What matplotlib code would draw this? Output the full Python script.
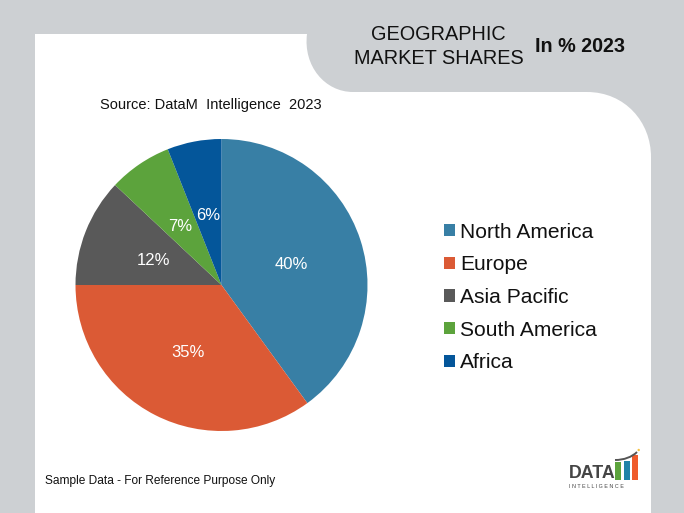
import matplotlib
matplotlib.use('Agg')
import matplotlib.pyplot as plt
from matplotlib.patches import PathPatch, Rectangle, Circle
from matplotlib.path import Path

plt.rcParams['font.family'] = ['Liberation Sans', 'DejaVu Sans']

regions = ['North America', 'Europe', 'Asia Pacific', 'South America', 'Africa']
shares = [40, 35, 12, 7, 6]
colors = ['#387FA5', '#DB5A35', '#595959', '#5CA33C', '#04569A']

W, H = 684, 513
GREY = '#CDD0D3'

fig = plt.figure(figsize=(W / 100, H / 100), dpi=100, facecolor=GREY)

# background, drawn in pixel coords
bg = fig.add_axes([0, 0, 1, 1])
bg.set_xlim(0, W)
bg.set_ylim(H, 0)
bg.axis('off')

verts = [(35, 34), (307, 34),
         (303, 66), (325, 92), (353, 92),
         (587, 92),
         (625, 92), (651, 122), (651, 157),
         (651, 513), (35, 513), (35, 34)]
codes = [Path.MOVETO, Path.LINETO,
         Path.CURVE4, Path.CURVE4, Path.CURVE4,
         Path.LINETO,
         Path.CURVE4, Path.CURVE4, Path.CURVE4,
         Path.LINETO, Path.LINETO, Path.CLOSEPOLY]
bg.add_patch(PathPatch(Path(verts, codes), facecolor='white', edgecolor='none'))

# titles
bg.text(438.5, 34.5, 'GEOGRAPHIC', fontsize=14.3, ha='center', va='center', color='#111111')
bg.text(439, 58.5, 'MARKET SHARES', fontsize=14.3, ha='center', va='center', color='#111111')
bg.text(580, 47, 'In % 2023', fontsize=14.2, fontweight='bold', ha='center', va='center', color='#111111')
bg.text(210.5, 105.5, 'Source: DataM  Intelligence  2023', fontsize=10.5, ha='center', va='center', color='#111111')
bg.text(45, 481, 'Sample Data - For Reference Purpose Only', fontsize=8.6, ha='left', va='center', color='#111111')

# logo
bg.text(569, 478.5, 'DATA', fontsize=12.8, fontweight='bold', ha='left', va='baseline', color='#454545')
bg.text(569, 486, 'I N T E L L I G E N C E', fontsize=3.9, ha='left', va='center', color='#454545')
bg.add_patch(Rectangle((615, 462), 6, 18, color='#5CA33C', lw=0))
bg.add_patch(Rectangle((624, 461), 5.5, 19, color='#1F82A8', lw=0))
bg.add_patch(Rectangle((632, 455), 6, 25, color='#EF5B2B', lw=0))
arc = Path([(615, 460), (624, 460), (632, 457), (637, 452)],
           [Path.MOVETO, Path.CURVE4, Path.CURVE4, Path.CURVE4])
bg.add_patch(PathPatch(arc, facecolor='none', edgecolor='#555555', lw=1.4))
bg.add_patch(Circle((638.7, 450), 1.2, color='#F5C242', lw=0))

# pie, centre (221.5, 285) radius 146
R = 146
ax = fig.add_axes([(221.5 - R) / W, 1 - (285 + R) / H, 2 * R / W, 2 * R / H])
wedges, texts, pcts = ax.pie(shares, colors=colors, startangle=90, counterclock=False,
                             radius=1, autopct='%.0f%%', pctdistance=0.5,
                             wedgeprops={'linewidth': 0},
                             textprops={'color': 'white', 'fontsize': 12})
ax.set_xlim(-1, 1)
ax.set_ylim(-1, 1)
for t in pcts:
    t.set_y(t.get_position()[1] - 0.014)

leg = fig.legend(wedges, regions, loc='center left', bbox_to_anchor=(444 / W, 1 - 297.5 / H),
                 frameon=False, fontsize=15.1, handlelength=0.53, handleheight=0.53,
                 handletextpad=0.25, labelspacing=0.65, borderpad=0, borderaxespad=0,
                 labelcolor='#111111')

fig.savefig('out.png', dpi=100, facecolor=GREY)
